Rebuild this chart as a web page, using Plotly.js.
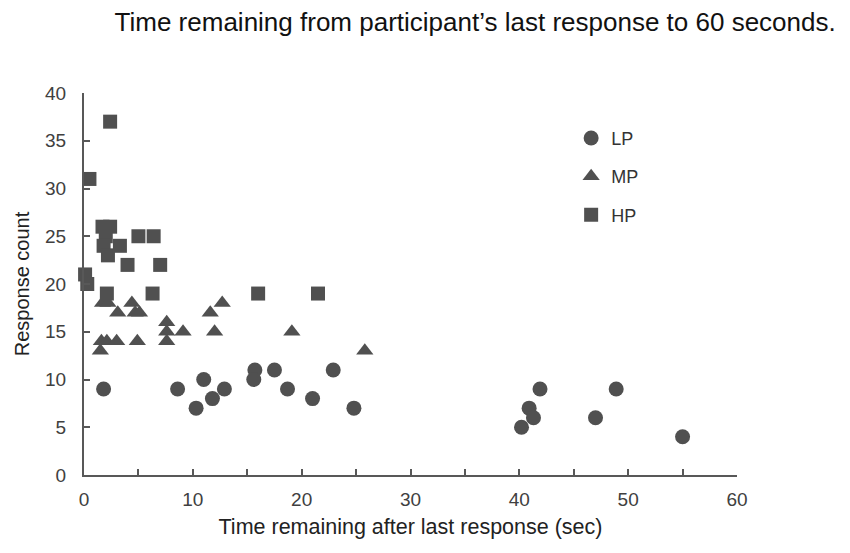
<!DOCTYPE html>
<html>
<head>
<meta charset="utf-8">
<script src="https://cdn.plot.ly/plotly-3.0.1.min.js"></script>
<style>
  html, body { margin: 0; padding: 0; background: #fff; }
  #chart { width: 850px; height: 553px; }
</style>
</head>
<body>
<div id="chart"></div>
<script>
// data
const lpX = [1.8, 8.6, 11.0, 10.3, 11.8, 12.9, 15.7, 15.6, 17.5, 18.7, 21.0, 22.9, 24.8, 40.2, 40.9, 41.3, 41.9, 47.0, 48.9, 55.0];
const lpY = [9, 9, 10, 7, 8, 9, 11, 10, 11, 9, 8, 11, 7, 5, 7, 6, 9, 6, 9, 4];

const mpX = [1.5, 1.6, 2.1, 1.7, 2.2, 3.0, 3.1, 4.4, 4.7, 4.9, 5.1, 7.6, 7.6, 7.6, 9.1, 11.6, 12.0, 12.7, 19.1, 25.8];
const mpY = [13, 14, 14, 18, 18, 14, 17, 18, 17, 14, 17, 16, 15, 14, 15, 17, 15, 18, 15, 13];

const hpX = [0.1, 0.3, 0.5, 1.7, 2.4, 2.0, 1.8, 2.2, 3.3, 2.4, 4.0, 5.0, 6.4, 7.0, 2.1, 6.3, 16.0, 21.5];
const hpY = [21, 20, 31, 26, 26, 25, 24, 23, 24, 37, 22, 25, 25, 22, 19, 19, 19, 19];

const groups = ['LP', 'MP', 'HP'];

const markColor = '#505050';
const axisColor = '#585858';
const font = 'Liberation Sans, Arial, sans-serif';

const makeTrace = (name, x, y, symbol, size) => ({
    x: x,
    y: y,
    name: name,
    legendgroup: name,
    type: 'scatter',
    mode: 'markers',
    cliponaxis: false,
    marker: { symbol: symbol, size: size, color: markColor }
});

const data = [
    makeTrace(groups[0], lpX, lpY, 'circle', 15),
    makeTrace(groups[1], mpX, mpY, 'triangle-up', 15),
    makeTrace(groups[2], hpX, hpY, 'square', 14)
];

// shared axis styling
const axisBase = {
    showgrid: false,
    zeroline: false,
    showline: true,
    linecolor: axisColor,
    linewidth: 2,
    ticks: 'inside',
    ticklen: 6,
    tickwidth: 2,
    tickcolor: axisColor,
    tickfont: { family: font, size: 19, color: '#404040' }
};

const layout = {
    width: 850,
    height: 553,
    margin: { l: 84, r: 113, t: 93, b: 78 },
    paper_bgcolor: '#fff',
    plot_bgcolor: '#fff',
    font: { family: font, color: '#333', size: 17 },
    title: {
        text: 'Time remaining from participant\u2019s last response to 60 seconds.',
        font: { family: font, size: 26, color: '#111' },
        x: 0.559,
        xanchor: 'center',
        y: 0.96,
        yanchor: 'middle'
    },
    xaxis: Object.assign({}, axisBase, {
        range: [0, 60],
        dtick: 10,
        ticklabelstandoff: 6,
        minor: { dtick: 5, ticks: 'inside', ticklen: 6, tickwidth: 2, tickcolor: axisColor },
        title: {
            text: 'Time remaining after last response (sec)',
            font: { family: font, size: 21.5, color: '#222' },
            standoff: 10
        }
    }),
    yaxis: Object.assign({}, axisBase, {
        range: [0, 40],
        dtick: 5,
        ticklabelstandoff: 12,
        title: {
            text: 'Response count',
            font: { family: font, size: 20, color: '#222' },
            standoff: 10
        }
    }),
    showlegend: true,
    legend: {
        x: 0.746,
        y: 0.93,
        xanchor: 'left',
        yanchor: 'top',
        traceorder: 'grouped',
        tracegroupgap: 12,
        itemwidth: 30,
        bgcolor: 'rgba(0,0,0,0)',
        font: { family: font, size: 18, color: '#333' }
    }
};

Plotly.newPlot('chart', data, layout, { displayModeBar: false, staticPlot: true });
</script>
</body>
</html>
